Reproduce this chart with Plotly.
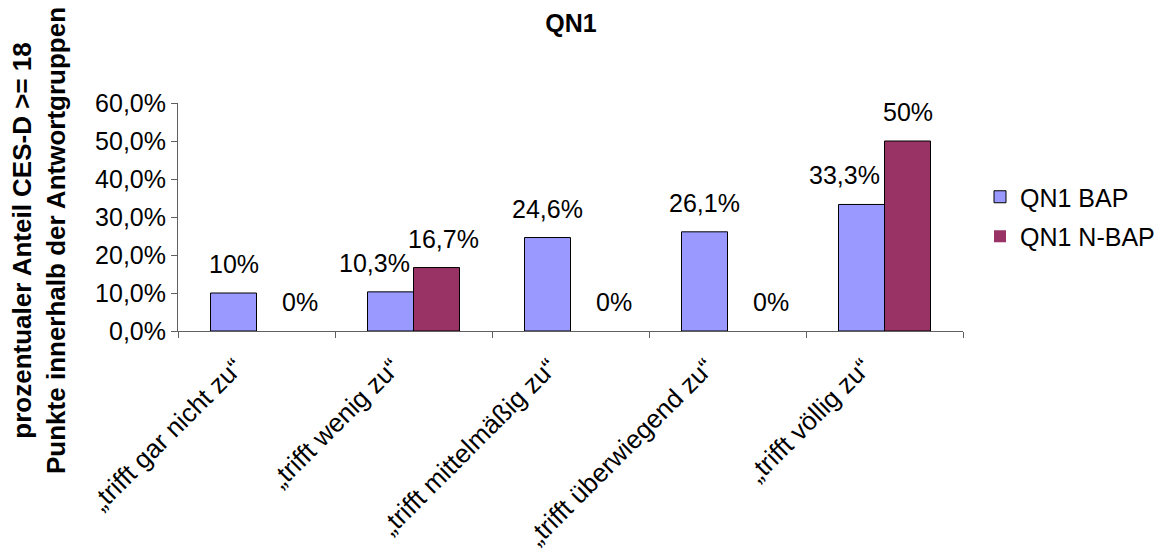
import plotly.graph_objects as go

# Antwortkategorien und Anteile (in Prozent)
categories = ["„trifft gar nicht zu“", "„trifft wenig zu“", "„trifft mittelmäßig zu“",
              "„trifft überwiegend zu“", "„trifft völlig zu“"]
bap_values = [10, 10.3, 24.6, 26.1, 33.3]
nbap_values = [0, 16.7, 0, 0, 50]
series_names = ["QN1 BAP", "QN1 N-BAP"]
y_ticks = [0, 10, 20, 30, 40, 50, 60]

# horizontale Verschiebung der Wertbeschriftungen (px), damit sie sich nicht überlappen
bap_label_shift = [0, -16, 0, 0, -17]
nbap_label_shift = [20, 7, 20, 20, 0]

FONT = "Liberation Sans, Arial, sans-serif"
BAR_GAP = 0.414
W, H = 1165, 550
M_L, M_R, M_T, M_B = 178, 202, 103, 219


def pct_label(v):
    if float(v).is_integer():
        return f"{int(v)}%"
    return f"{v:.1f}".replace(".", ",") + "%"


def outline_widths(vals):
    # Balken mit Wert 0 bekommen keinen Rahmen
    return [1 if v else 0 for v in vals]


fig = go.Figure()
fig.add_trace(go.Bar(x=categories, y=bap_values, name=series_names[0],
                     marker=dict(color="#9999FF",
                                 line=dict(color="#000000", width=outline_widths(bap_values))),
                     legendgroup="a"))
fig.add_trace(go.Bar(x=categories, y=nbap_values, name=series_names[1],
                     marker=dict(color="#993366",
                                 line=dict(color="#000000", width=outline_widths(nbap_values))),
                     legendgroup="b"))

# Wertbeschriftungen über den Balken
half = (1 - BAR_GAP) / 4
annotations = []
for i in range(len(categories)):
    for vals, shifts, off in ((bap_values, bap_label_shift, -half),
                              (nbap_values, nbap_label_shift, half)):
        annotations.append(dict(x=i + off, y=vals[i], xref="x", yref="y",
                                text=pct_label(vals[i]), showarrow=False,
                                yanchor="bottom", xanchor="center",
                                yshift=13, xshift=shifts[i],
                                font=dict(family=FONT, size=25, color="#000000")))

plot_w = W - M_L - M_R
plot_h = H - M_T - M_B
# y-Achsentitel (zweizeilig, gedreht)
annotations.append(dict(
    text="<b>prozentualer Anteil CES-D >= 18</b><br><b>Punkte innerhalb der Antwortgruppen</b>",
    textangle=-90, showarrow=False, xref="paper", yref="paper",
    x=(39 - M_L) / plot_w, y=(H - M_B - 241) / plot_h,
    xanchor="center", yanchor="middle",
    font=dict(family=FONT, size=26, color="#000000")))

fig.update_layout(
    width=W, height=H,
    margin=dict(l=M_L, r=M_R, t=M_T, b=M_B, autoexpand=False),
    paper_bgcolor="#FFFFFF", plot_bgcolor="#FFFFFF",
    barmode="group", bargap=BAR_GAP, bargroupgap=0,
    title=dict(text="<b>QN1</b>", x=(571 - M_L) / plot_w, xref="paper",
               xanchor="center", y=1 - 23 / H, yanchor="middle",
               font=dict(family=FONT, size=25, color="#000000")),
    font=dict(family=FONT, size=25, color="#000000"),
    legend=dict(x=(980 - M_L) / plot_w, y=(H - M_B - 174) / plot_h,
                xanchor="left", yanchor="top", tracegroupgap=4,
                traceorder="grouped", font=dict(family=FONT, size=25),
                bgcolor="rgba(0,0,0,0)"),
    annotations=annotations,
    showlegend=True,
)

fig.update_xaxes(type="category", showline=True, linecolor="#606060", linewidth=1,
                 ticks="outside", tickson="boundaries", ticklen=6, tickcolor="#606060",
                 tickangle=-45, ticklabelstandoff=10, ticklabelshift=-21,
                 showgrid=False, zeroline=False, automargin=False,
                 tickfont=dict(family=FONT, size=26, color="#000000"))
fig.update_yaxes(range=[0, 60], tickvals=y_ticks,
                 ticktext=[f"{t:.1f}".replace(".", ",") + "%" for t in y_ticks],
                 showline=True, linecolor="#606060", linewidth=1,
                 ticks="outside", ticklen=6, tickcolor="#606060",
                 showgrid=False, zeroline=False, automargin=False,
                 tickfont=dict(family=FONT, size=25, color="#000000"))

fig.write_html("out.html")
